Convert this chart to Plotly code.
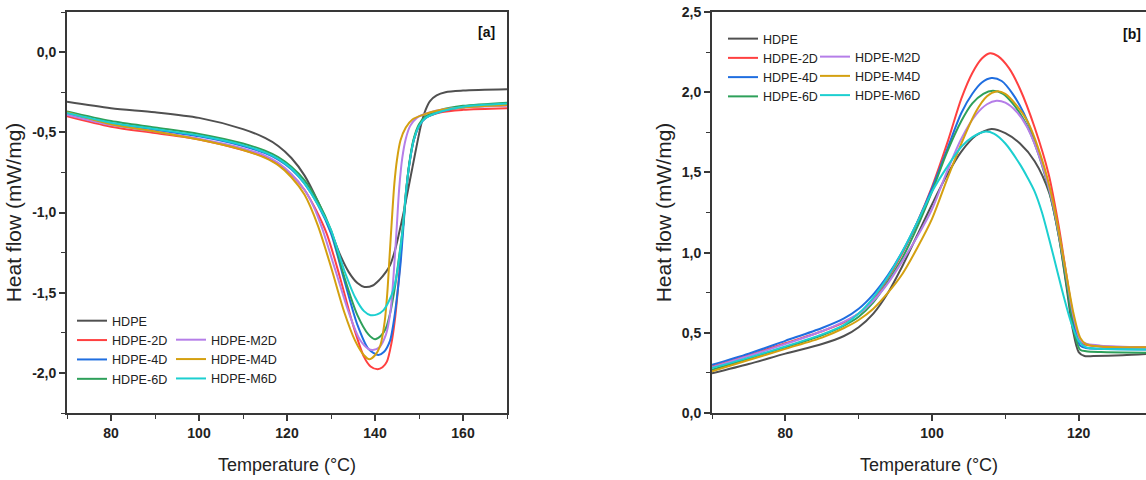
import plotly.graph_objects as go

# ---------------- Panel [a] : melting (heat flow vs temperature) ----------------
a_HDPE_T = [70, 80, 90, 100, 110, 115, 118, 121, 124, 127, 130, 132, 134, 136, 137.6, 139.5, 141, 142.5, 143.4,
            144.4, 145.3, 146.5, 147.5, 148.5, 149.5, 150.5, 151.5, 152.5, 154, 156, 160, 170]
a_HDPE_HF = [-0.31, -0.35, -0.375, -0.41, -0.48, -0.535, -0.585, -0.66, -0.77, -0.93, -1.12, -1.26, -1.37, -1.44,
             -1.464, -1.455, -1.42, -1.37, -1.33, -1.25, -1.15, -1.0, -0.86, -0.72, -0.58, -0.45, -0.36, -0.305,
             -0.27, -0.25, -0.24, -0.232]

a_2D_T = [70, 80, 90, 100, 110, 115, 118, 121, 124, 126.5, 129, 132, 135, 137.5, 139, 140.6, 141.7, 142.7, 143.7,
          144.6, 145.3, 146.3, 147, 147.8, 148.8, 150, 151.5, 155, 160, 170]
a_2D_HF = [-0.40, -0.465, -0.505, -0.545, -0.61, -0.655, -0.70, -0.765, -0.86, -0.98, -1.13, -1.40, -1.70, -1.90,
           -1.96, -1.977, -1.965, -1.93, -1.82, -1.65, -1.45, -1.11, -0.88, -0.70, -0.55, -0.46, -0.41, -0.375,
           -0.36, -0.35]

a_4D_T = [70, 80, 90, 100, 110, 115, 118, 121, 124, 127, 130, 133, 136, 138.5, 140.75, 142, 143.4, 144.2, 144.9,
          145.8, 146.4, 147.1, 147.8, 148.8, 150, 151.5, 155, 160, 170]
a_4D_HF = [-0.385, -0.445, -0.485, -0.525, -0.585, -0.63, -0.67, -0.73, -0.82, -0.95, -1.13, -1.42, -1.70, -1.85,
           -1.888, -1.87, -1.80, -1.69, -1.55, -1.32, -1.11, -0.87, -0.70, -0.55, -0.46, -0.41, -0.37, -0.345, -0.33]

a_6D_T = [70, 80, 90, 100, 110, 115, 118, 121, 124, 127, 130, 133, 136, 138.5, 140, 141.3, 142.5, 143.5, 144.5,
          145.5, 146.4, 147.1, 147.8, 148.8, 150, 151.5, 155, 160, 170]
a_6D_HF = [-0.37, -0.43, -0.47, -0.51, -0.57, -0.615, -0.655, -0.715, -0.80, -0.93, -1.11, -1.40, -1.64, -1.76,
           -1.79, -1.77, -1.72, -1.62, -1.47, -1.27, -1.08, -0.86, -0.69, -0.54, -0.45, -0.40, -0.36, -0.335, -0.315]

a_M2D_T = [70, 80, 90, 100, 110, 115, 118, 121, 124, 126, 128, 131, 134, 136.5, 138.5, 139.5, 141, 142.5, 143.5,
           144.2, 144.9, 145.5, 146.2, 147, 148, 149.5, 152, 156, 160, 170]
a_M2D_HF = [-0.39, -0.455, -0.495, -0.54, -0.60, -0.645, -0.69, -0.76, -0.86, -0.96, -1.10, -1.36, -1.62, -1.79,
            -1.85, -1.857, -1.84, -1.76, -1.62, -1.40, -1.11, -0.85, -0.66, -0.54, -0.46, -0.41, -0.38, -0.355,
            -0.345, -0.335]

a_M4D_T = [70, 80, 90, 100, 110, 115, 118, 121, 124, 127, 130, 133, 135.5, 137.5, 138.7, 140, 141.2, 142.2, 142.8,
           143.3, 143.8, 144.4, 145, 145.8, 147, 148.5, 151, 155, 160, 170]
a_M4D_HF = [-0.375, -0.45, -0.495, -0.545, -0.61, -0.66, -0.705, -0.78, -0.89, -1.08, -1.34, -1.62, -1.80, -1.89,
            -1.915, -1.89, -1.83, -1.68, -1.50, -1.28, -1.06, -0.82, -0.67, -0.55, -0.47, -0.42, -0.39, -0.36,
            -0.345, -0.33]

a_M6D_T = [70, 80, 90, 100, 110, 115, 118, 121, 124, 127, 130, 133, 135.5, 137.5, 139, 140.5, 141.9, 143.2, 144.2,
           145, 145.7, 146.3, 147, 147.8, 148.8, 150, 151.5, 155, 160, 170]
a_M6D_HF = [-0.38, -0.44, -0.48, -0.52, -0.58, -0.625, -0.665, -0.725, -0.82, -0.95, -1.11, -1.36, -1.53, -1.615,
            -1.64, -1.635, -1.61, -1.55, -1.48, -1.38, -1.24, -1.10, -0.88, -0.70, -0.55, -0.46, -0.41, -0.37,
            -0.34, -0.32]

# ---------------- Panel [b] : crystallization ----------------
b_HDPE_T = [70, 75, 80, 85, 88, 90, 92, 94, 96, 98, 100, 102, 104, 106, 108.1, 110, 112, 114, 116, 117.3, 118.3,
            119.2, 120, 120.8, 122, 126, 132]
b_HDPE_HF = [0.247, 0.305, 0.37, 0.43, 0.48, 0.535, 0.62, 0.75, 0.92, 1.11, 1.30, 1.48, 1.63, 1.73, 1.771, 1.745,
             1.68, 1.57, 1.37, 1.10, 0.80, 0.52, 0.38, 0.355, 0.355, 0.36, 0.375]

b_2D_T = [70, 75, 80, 85, 88, 90, 92, 94, 96, 98, 100, 102.2, 104, 105.5, 106.8, 107.9, 109, 110.5, 112, 114,
          115.9, 117.3, 118.5, 119.5, 120.2, 121, 123, 132]
b_2D_HF = [0.29, 0.36, 0.435, 0.51, 0.565, 0.62, 0.71, 0.84, 1.00, 1.19, 1.41, 1.70, 1.96, 2.12, 2.21, 2.243,
           2.225, 2.15, 2.02, 1.78, 1.49, 1.16, 0.81, 0.54, 0.44, 0.425, 0.415, 0.41]

b_4D_T = [70, 75, 80, 85, 88, 90, 92, 94, 96, 98, 100, 102.2, 104, 105.5, 106.8, 108.1, 109.5, 111, 112.5, 114,
          115.9, 117.3, 118.5, 119.5, 120.2, 121, 123, 132]
b_4D_HF = [0.30, 0.37, 0.45, 0.53, 0.59, 0.65, 0.74, 0.86, 1.01, 1.19, 1.40, 1.66, 1.87, 1.99, 2.06, 2.088, 2.07,
           1.99, 1.87, 1.70, 1.42, 1.12, 0.79, 0.52, 0.42, 0.405, 0.40, 0.395]

b_6D_T = [70, 75, 80, 85, 88, 90, 92, 94, 96, 98, 100, 102, 104, 105.5, 107, 108.3, 109.7, 111, 112.5, 114,
          115.9, 117.3, 118.5, 119.5, 120.2, 121, 123, 132]
b_6D_HF = [0.27, 0.34, 0.41, 0.485, 0.545, 0.60, 0.69, 0.82, 0.97, 1.16, 1.38, 1.62, 1.82, 1.93, 1.99, 2.009,
           1.99, 1.93, 1.83, 1.68, 1.40, 1.10, 0.76, 0.48, 0.395, 0.385, 0.38, 0.375]

b_M2D_T = [70, 75, 80, 85, 88, 90, 92, 94, 96, 98, 100, 102, 104, 106, 107.5, 108.8, 110, 111.5, 113, 115, 116.5,
           118, 119.3, 120.3, 121.2, 123, 132]
b_M2D_HF = [0.285, 0.355, 0.43, 0.51, 0.57, 0.62, 0.70, 0.81, 0.95, 1.10, 1.27, 1.50, 1.71, 1.86, 1.925, 1.947,
            1.935, 1.88, 1.78, 1.55, 1.30, 0.94, 0.60, 0.45, 0.43, 0.42, 0.405]

b_M4D_T = [70, 75, 80, 85, 88, 90, 92, 94, 96, 98, 100, 102, 104, 106, 107.5, 108.8, 110, 111.5, 113, 115, 116.5,
           118, 119.3, 120.2, 121, 123, 132]
b_M4D_HF = [0.26, 0.33, 0.40, 0.47, 0.53, 0.58, 0.65, 0.75, 0.87, 1.03, 1.21, 1.45, 1.68, 1.88, 1.975, 2.005,
            1.99, 1.92, 1.82, 1.58, 1.32, 0.95, 0.62, 0.47, 0.43, 0.415, 0.41]

b_M6D_T = [70, 75, 80, 85, 88, 90, 92, 94, 96, 98, 100, 102, 104, 105.5, 107.2, 108.5, 110, 112, 113, 114, 115,
           116, 117, 118, 119, 120, 121, 123, 132]
b_M6D_HF = [0.28, 0.345, 0.415, 0.49, 0.55, 0.62, 0.72, 0.85, 1.01, 1.19, 1.38, 1.53, 1.66, 1.72, 1.754, 1.74,
            1.68, 1.55, 1.47, 1.38, 1.25, 1.08, 0.90, 0.72, 0.56, 0.45, 0.41, 0.40, 0.395]

names = ["HDPE", "HDPE-2D", "HDPE-4D", "HDPE-6D", "HDPE-M2D", "HDPE-M4D", "HDPE-M6D"]
colors = ["#505050", "#ff4040", "#1f6ee0", "#2ea05a", "#b57ee8", "#d4a010", "#1ccfd0"]
column = [0, 0, 0, 0, 1, 1, 1]   # legend column of each series

a_T = [a_HDPE_T, a_2D_T, a_4D_T, a_6D_T, a_M2D_T, a_M4D_T, a_M6D_T]
a_HF = [a_HDPE_HF, a_2D_HF, a_4D_HF, a_6D_HF, a_M2D_HF, a_M4D_HF, a_M6D_HF]
b_T = [b_HDPE_T, b_2D_T, b_4D_T, b_6D_T, b_M2D_T, b_M4D_T, b_M6D_T]
b_HF = [b_HDPE_HF, b_2D_HF, b_4D_HF, b_6D_HF, b_M2D_HF, b_M4D_HF, b_M6D_HF]

a_yticks = [0.0, -0.5, -1.0, -1.5, -2.0]
a_yticktext = ["0,0", "-0,5", "-1,0", "-1,5", "-2,0"]
b_yticks = [0.0, 0.5, 1.0, 1.5, 2.0, 2.5]
b_yticktext = ["0,0", "0,5", "1,0", "1,5", "2,0", "2,5"]

# ---------------- layout geometry ----------------
W, H = 1146, 480
ML, MR, MT, MB = 67, 0, 12, 67
PW = W - ML - MR
PH = H - MT - MB


def px_x(px):
    return (px - ML) / PW


def px_y(py):
    return (H - MB - py) / PH


FONT = "Liberation Sans, Arial, sans-serif"
AX = "#383838"

fig = go.Figure()

legend_names = [["legend", "legend2"], ["legend3", "legend4"]]
for i in range(7):
    fig.add_trace(go.Scatter(x=a_T[i], y=a_HF[i], mode="lines", name=names[i],
                             line=dict(color=colors[i], width=2, shape="spline", smoothing=0.8),
                             legend=legend_names[0][column[i]], xaxis="x", yaxis="y"))
    fig.add_trace(go.Scatter(x=b_T[i], y=b_HF[i], mode="lines", name=names[i],
                             line=dict(color=colors[i], width=2, shape="spline", smoothing=0.8),
                             legend=legend_names[1][column[i]], xaxis="x2", yaxis="y2"))

tickfont = dict(family=FONT, size=14, color="#222222", weight="bold")
xtitlefont = dict(family=FONT, size=18, color="#222222")
ytitlefont = dict(family=FONT, size=21, color="#222222")

common_axis = dict(showline=True, linecolor=AX, linewidth=1.8, ticks="outside", ticklen=6, tickwidth=1.5,
                   tickcolor=AX, showgrid=False, zeroline=False, tickfont=tickfont, automargin=False)

right_start = 712
b_xmax = 70 + (W - right_start) / (440 / 60)


def leg(xpx, ypx, size):
    return dict(orientation="v", xref="paper", yref="paper", x=px_x(xpx), y=px_y(ypx),
                xanchor="left", yanchor="top", bgcolor="rgba(0,0,0,0)", borderwidth=0,
                font=dict(family=FONT, size=size, color="#222222"), tracegroupgap=0, itemwidth=30)


fig.update_layout(
    width=W, height=H,
    margin=dict(l=ML, r=MR, t=MT, b=MB, pad=0, autoexpand=False),
    paper_bgcolor="white", plot_bgcolor="white",
    font=dict(family=FONT, color="#222222"),
    xaxis=dict(domain=[0, 440 / PW], range=[70, 170], tickvals=[80, 100, 120, 140, 160], mirror=True,
               minor=dict(tickvals=[70, 90, 110, 130, 150, 170], ticks="outside", ticklen=4, tickwidth=1.2, tickcolor=AX),
               title=dict(text="Temperature (°C)", font=xtitlefont, standoff=19), anchor="y", **common_axis),
    yaxis=dict(domain=[0, 1], range=[-2.25, 0.25], tickvals=a_yticks, ticktext=a_yticktext, mirror=True,
               minor=dict(tickvals=[-2.25, -1.75, -1.25, -0.75, -0.25, 0.25], ticks="outside", ticklen=4, tickwidth=1.2, tickcolor=AX),
               title=dict(text="Heat flow (mW/mg)", font=ytitlefont, standoff=5), anchor="x", **common_axis),
    xaxis2=dict(domain=[(right_start - ML) / PW, 1], range=[70, b_xmax], tickvals=[80, 100, 120], mirror=True,
                minor=dict(tickvals=[70, 90, 110, 130], ticks="outside", ticklen=4, tickwidth=1.2, tickcolor=AX),
                title=dict(text="Temperature (°C)", font=xtitlefont, standoff=19), anchor="y2", **common_axis),
    yaxis2=dict(domain=[0, 1], range=[0, 2.5], tickvals=b_yticks, ticktext=b_yticktext, mirror=False,
                minor=dict(tickvals=[0.25, 0.75, 1.25, 1.75, 2.25], ticks="outside", ticklen=4, tickwidth=1.2, tickcolor=AX),
                title=dict(text="Heat flow (mW/mg)", font=ytitlefont, standoff=4), anchor="x2", **common_axis),
    legend=leg(72, 306, 12.6),
    legend2=leg(171, 325, 12.6),
    legend3=leg(723, 24, 12.5),
    legend4=leg(815, 42, 12.5),
    annotations=[
        dict(text="[a]", xref="paper", yref="paper", x=px_x(497), y=px_y(32),
             xanchor="right", yanchor="middle", showarrow=False,
             font=dict(family=FONT, size=14, color="#111111", weight="bold")),
        dict(text="[b]", xref="paper", yref="paper", x=px_x(1143), y=px_y(34),
             xanchor="right", yanchor="middle", showarrow=False,
             font=dict(family=FONT, size=14, color="#111111", weight="bold")),
    ],
    showlegend=True,
    hovermode=False,
)

fig.write_html("out.html", config={"displayModeBar": False},
               post_script="document.body.style.margin='0px';")
